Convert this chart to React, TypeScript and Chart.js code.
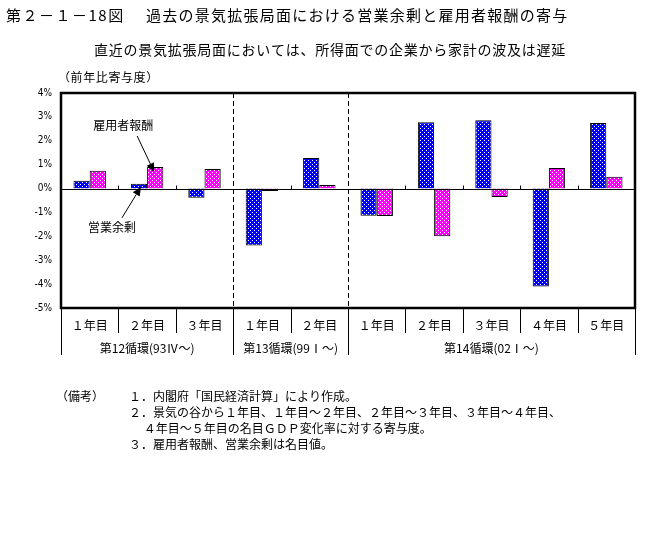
import React, { useEffect, useRef } from "react";
import { Chart, registerables } from "chart.js";

Chart.register(...registerables);

const categories = ["１年目", "２年目", "３年目", "１年目", "２年目", "１年目", "２年目", "３年目", "４年目", "５年目"];
const operatingSurplus = [0.33, 0.2, -0.39, -2.38, 1.28, -1.14, 2.78, 2.86, -4.1, 2.74];
const compensation = [0.75, 0.9, 0.82, -0.1, 0.15, -1.15, -2.0, -0.35, 0.86, 0.49];
const groupLabels = ["第12循環(93Ⅳ～)", "第13循環(99Ⅰ～)", "第14循環(02Ⅰ～)"];
const groupSizes = [3, 2, 5];
const yMin = -5;
const yMax = 4;
const seriesNames = ["営業余剰", "雇用者報酬"];

const titleNo = "第２－１－18図";
const titleMain = "過去の景気拡張局面における営業余剰と雇用者報酬の寄与";
const subtitle = "直近の景気拡張局面においては、所得面での企業から家計の波及は遅延";
const unitLabel = "（前年比寄与度）";
const notesHead = "（備考）";
const notes = [
  "１．内閣府「国民経済計算」により作成。",
  "２．景気の谷から１年目、１年目～２年目、２年目～３年目、３年目～４年目、",
  "　 ４年目～５年目の名目ＧＤＰ変化率に対する寄与度。",
  "３．雇用者報酬、営業余剰は名目値。",
];

const FONT = "'Noto Sans CJK JP', 'Noto Sans', sans-serif";

function makePattern(fg: string, whiteCells: [number, number][], size: number): CanvasPattern | string {
  const c = document.createElement("canvas");
  c.width = size;
  c.height = size;
  const g = c.getContext("2d");
  if (!g) return fg;
  g.fillStyle = fg;
  g.fillRect(0, 0, size, size);
  g.fillStyle = "#ffffff";
  whiteCells.forEach(([x, y]) => g.fillRect(x, y, 1, 1));
  const p = g.createPattern(c, "repeat");
  return p || fg;
}

function arrow(ctx: CanvasRenderingContext2D, x1: number, y1: number, x2: number, y2: number) {
  const ang = Math.atan2(y2 - y1, x2 - x1);
  const hl = 9;
  const hw = 4;
  const bx = x2 - hl * Math.cos(ang);
  const by = y2 - hl * Math.sin(ang);
  ctx.save();
  ctx.strokeStyle = "#000";
  ctx.fillStyle = "#000";
  ctx.lineWidth = 1;
  ctx.beginPath();
  ctx.moveTo(x1, y1);
  ctx.lineTo(bx, by);
  ctx.stroke();
  ctx.beginPath();
  ctx.moveTo(x2, y2);
  ctx.lineTo(bx + hw * Math.sin(ang), by - hw * Math.cos(ang));
  ctx.lineTo(bx - hw * Math.sin(ang), by + hw * Math.cos(ang));
  ctx.closePath();
  ctx.fill();
  ctx.restore();
}

const decorPlugin = {
  id: "decor",
  beforeDatasetsDraw(chart: any) {
    const { ctx, chartArea } = chart;
    const x = chart.scales.x;
    ctx.save();
    ctx.strokeStyle = "#000";
    ctx.lineWidth = 1;
    ctx.setLineDash([5, 3]);
    let idx = 0;
    for (let g = 0; g < groupSizes.length - 1; g++) {
      idx += groupSizes[g];
      const px = Math.round((x.getPixelForValue(idx - 1) + x.getPixelForValue(idx)) / 2) + 0.5;
      ctx.beginPath();
      ctx.moveTo(px, chartArea.top);
      ctx.lineTo(px, chartArea.bottom);
      ctx.stroke();
    }
    ctx.restore();
  },
  afterDatasetsDraw(chart: any) {
    const { ctx, chartArea } = chart;
    const x = chart.scales.x;
    const y = chart.scales.y;
    const y0 = Math.round(y.getPixelForValue(0)) + 0.5;
    ctx.save();
    ctx.strokeStyle = "#000";
    ctx.lineWidth = 1;
    ctx.beginPath();
    ctx.moveTo(chartArea.left, y0);
    ctx.lineTo(chartArea.right, y0);
    ctx.stroke();

    const groupEnds = new Set<number>();
    let acc = 0;
    groupSizes.forEach((s) => {
      acc += s;
      groupEnds.add(acc);
    });
    for (let i = 1; i < categories.length; i++) {
      const px = Math.round((x.getPixelForValue(i - 1) + x.getPixelForValue(i)) / 2) + 0.5;
      const isGroup = groupEnds.has(i);
      if (!isGroup) {
        ctx.beginPath();
        ctx.moveTo(px, y0);
        ctx.lineTo(px, y0 - 4);
        ctx.stroke();
      }
      ctx.beginPath();
      ctx.moveTo(px, chartArea.bottom);
      ctx.lineTo(px, chartArea.bottom + (isGroup ? 47 : 25));
      ctx.stroke();
    }
    [chartArea.left, chartArea.right].forEach((px: number) => {
      ctx.beginPath();
      ctx.moveTo(Math.round(px) + 0.5, chartArea.bottom);
      ctx.lineTo(Math.round(px) + 0.5, chartArea.bottom + 47);
      ctx.stroke();
    });

    ctx.lineWidth = 2.5;
    ctx.strokeRect(chartArea.left, chartArea.top, chartArea.right - chartArea.left, chartArea.bottom - chartArea.top);

    ctx.fillStyle = "#000";
    ctx.font = `12px ${FONT}`;
    ctx.textAlign = "center";
    ctx.textBaseline = "middle";
    let start = 0;
    groupSizes.forEach((s, gi) => {
      const left = start === 0 ? chartArea.left : (x.getPixelForValue(start - 1) + x.getPixelForValue(start)) / 2;
      const end = start + s;
      const right = end >= categories.length ? chartArea.right : (x.getPixelForValue(end - 1) + x.getPixelForValue(end)) / 2;
      ctx.fillText(groupLabels[gi], (left + right) / 2, chartArea.bottom + 40);
      start = end;
    });

    const pinkBar = chart.getDatasetMeta(1).data[1];
    const blueBar = chart.getDatasetMeta(0).data[1];
    ctx.font = `12px ${FONT}`;
    const tipP = { x: pinkBar.x - 1, y: pinkBar.y + 5 };
    const startP = { x: tipP.x - 17, y: tipP.y - 36 };
    arrow(ctx, startP.x, startP.y, tipP.x, tipP.y);
    ctx.fillText(seriesNames[1], startP.x - 14, startP.y - 11);
    const tipB = { x: blueBar.x + 2, y: blueBar.y + 3 };
    const startB = { x: tipB.x - 19, y: tipB.y + 31 };
    arrow(ctx, startB.x, startB.y, tipB.x, tipB.y);
    ctx.fillText(seriesNames[0], startB.x - 10, startB.y + 10);
    ctx.restore();
  },
  afterDraw(chart: any) {
    const { ctx } = chart;
    ctx.save();
    ctx.fillStyle = "#000";
    ctx.textAlign = "left";
    ctx.textBaseline = "middle";
    ctx.font = `15px ${FONT}`;
    (ctx as any).letterSpacing = "1.5px";
    ctx.fillText(titleNo, 6, 15);
    (ctx as any).letterSpacing = "1.25px";
    ctx.fillText(titleMain, 146, 15);
    ctx.font = `14px ${FONT}`;
    (ctx as any).letterSpacing = "0.75px";
    ctx.fillText(subtitle, 94, 50);
    ctx.font = `12px ${FONT}`;
    (ctx as any).letterSpacing = "0.6px";
    ctx.fillText(unitLabel, 58, 77);
    (ctx as any).letterSpacing = "0px";
    ctx.fillText(notesHead, 56, 396);
    const ys = [396, 412, 428, 444];
    notes.forEach((n, i) => ctx.fillText(n, 129, ys[i]));
    ctx.restore();
  },
};

export default function App() {
  const ref = useRef<HTMLCanvasElement | null>(null);
  useEffect(() => {
    if (!ref.current) return;
    const bluePattern = makePattern("#0000ff", [[0, 0], [2, 2]], 4);
    const pinkPattern = makePattern("#ff00ff", [[0, 0], [2, 2]], 4);
    const chart = new Chart(ref.current, {
      type: "bar",
      data: {
        labels: categories,
        datasets: [
          {
            label: seriesNames[0],
            data: operatingSurplus,
            backgroundColor: bluePattern as any,
            borderColor: "#000",
            borderWidth: 1,
            categoryPercentage: 0.565,
            barPercentage: 1,
          },
          {
            label: seriesNames[1],
            data: compensation,
            backgroundColor: pinkPattern as any,
            borderColor: "#000",
            borderWidth: 1,
            categoryPercentage: 0.565,
            barPercentage: 1,
          },
        ],
      },
      options: {
        responsive: false,
        animation: false,
        layout: { padding: { left: 0, top: 93, right: 24, bottom: 0 } },
        plugins: {
          legend: { display: false },
          tooltip: { enabled: false },
        },
        scales: {
          x: {
            type: "category",
            offset: true,
            grid: { display: false, drawTicks: false },
            border: { display: false },
            ticks: {
              color: "#000",
              font: { family: FONT, size: 12 },
              padding: 10,
              maxRotation: 0,
              autoSkip: false,
            },
            afterFit: (s: any) => {
              s.height = 236;
            },
          },
          y: {
            min: yMin,
            max: yMax,
            grid: { display: false, drawTicks: false },
            border: { display: false },
            ticks: {
              stepSize: 1,
              color: "#000",
              font: { family: "'DejaVu Sans Condensed', sans-serif", size: 10 },
              padding: 9,
              callback: (v: any) => `${v}%`,
            },
            afterFit: (s: any) => {
              s.width = 61;
            },
          },
        },
      },
      plugins: [decorPlugin],
    });
    return () => chart.destroy();
  }, []);
  return (
    <div style={{ position: "absolute", left: 0, top: 0, width: 659, height: 544, background: "#fff" }}>
      <canvas ref={ref} width={659} height={544} style={{ width: 659, height: 544 }} />
    </div>
  );
}
